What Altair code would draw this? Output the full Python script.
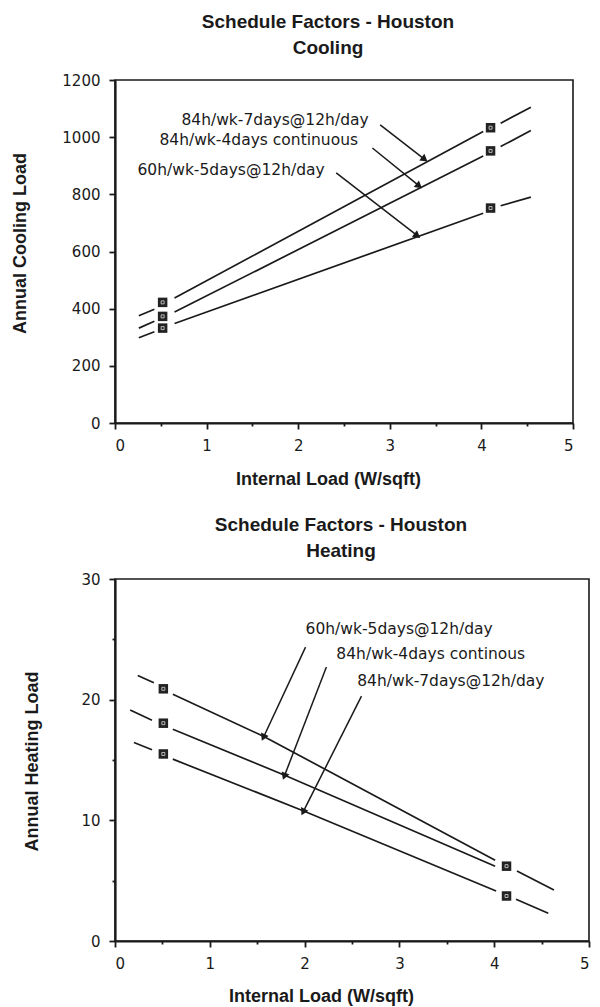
import math
import altair as alt
import pandas as pd

# ---------------- data ----------------
X_TICKS = [0, 0.5, 1, 1.5, 2, 2.5, 3, 3.5, 4, 4.5, 5]
COOL_Y_TICKS = [0, 200, 400, 600, 800, 1000, 1200]
HEAT_Y_TICKS = [0, 5, 10, 15, 20, 25, 30]

S7 = "84h/wk-7days@12h/day"
S4C = "84h/wk-4days continuous"
S4H = "84h/wk-4days continous"
S5 = "60h/wk-5days@12h/day"

# Cooling
cool_left_x = [0.26, 0.43]
cool_main_x = [0.65, 4.02]
cool_right_x = [4.21, 4.54]
cool_7d_left = [375, 398]
cool_7d_main = [437, 1020]
cool_7d_right = [1049, 1105]
cool_4d_left = [332, 356]
cool_4d_main = [388, 934]
cool_4d_right = [967, 1023]
cool_5d_left = [298, 319]
cool_5d_main = [348, 734]
cool_5d_right = [760, 790]
cool_marker_x = [0.52, 4.1]
cool_7d_marker = [422, 1033]
cool_4d_marker = [373, 952]
cool_5d_marker = [332, 752]

cool_labels = [S7, S4C, S5]
cool_label_x = [0.725, 0.485, 0.245]
cool_label_y = [1060, 990, 886]
cool_arrow_from_x = [2.895, 2.81, 2.415]
cool_arrow_from_y = [1043, 962, 875]
cool_arrow_to_x = [3.37, 3.31, 3.29]
cool_arrow_to_y = [925, 832, 658]

# Heating
heat_5d_left_x = [0.24, 0.41]
heat_5d_left = [22.0, 21.4]
heat_4d_left_x = [0.16, 0.39]
heat_4d_left = [19.15, 18.3]
heat_7d_left_x = [0.20, 0.39]
heat_7d_left = [16.45, 15.85]
heat_5d_main_x = [0.61, 1.57, 4.01]
heat_5d_main = [20.45, 16.95, 6.7]
heat_4d_main_x = [0.61, 1.79, 4.01]
heat_4d_main = [17.55, 13.74, 6.2]
heat_7d_main_x = [0.61, 1.99, 4.02]
heat_7d_main = [15.07, 10.78, 4.15]
heat_5d_right_x = [4.24, 4.63]
heat_5d_right = [5.8, 4.23]
heat_7d_right_x = [4.23, 4.57]
heat_7d_right = [3.46, 2.3]
heat_marker_x = [0.51, 4.13]
heat_5d_marker = [20.9, 6.2]
heat_4d_marker = [18.05, None]
heat_7d_marker = [15.5, 3.73]

heat_labels = [S5, S4H, S7]
heat_label_x = [2.01, 2.335, 2.555]
heat_label_y = [25.85, 23.77, 21.53]
heat_arrow_from_x = [2.01, 2.23, 2.6]
heat_arrow_from_y = [24.35, 22.7, 20.3]
heat_arrow_to_x = [1.57, 1.79, 1.99]
heat_arrow_to_y = [16.95, 13.74, 10.78]

# ---------------- helpers ----------------
TOP_W, TOP_H = 458, 343
BOT_W, BOT_H = 474, 362
TXT_FONT = "DejaVu Sans"
BOLD_FONT = "Liberation Sans"
INK = "#1a1a1a"


def seg_rows(series, seg, xs, ys):
    return [{"series": series, "seg": f"{series}|{seg}", "x": x, "y": y}
            for x, y in zip(xs, ys)]


def marker_rows(series, xs, ys):
    return [{"series": series, "x": x, "y": y} for x, y in zip(xs, ys) if y is not None]


def arrow_frames(fx, fy, tx, ty, w, h, ymax):
    rules, heads = [], []
    for a, b, c, d in zip(fx, fy, tx, ty):
        rules.append({"x": a, "y": b, "x2": c, "y2": d})
        dxp = (c - a) * w / 5.0
        dyp = -(d - b) * h / ymax
        ang = math.degrees(math.atan2(dxp, -dyp)) % 360
        heads.append({"x": c, "y": d, "angle": ang})
    return pd.DataFrame(rules), pd.DataFrame(heads)


def panel(lines, markers, labels, rules, heads, ymax, yticks, ystep_minor,
          w, h, title_lines, title_dx, title_offset, ytitle, ytitle_x, ytitle_y,
          xtitle_x, xtitle_y):
    xscale = alt.Scale(domain=[0, 5], nice=False, zero=False)
    yscale = alt.Scale(domain=[0, ymax], nice=False, zero=False)
    xaxis = alt.Axis(
        values=X_TICKS, grid=False,
        labelExpr="datum.value % 1 === 0 ? format(datum.value, 'd') : ''",
        tickSize={"condition": {"test": "datum.value % 1 !== 0", "value": 3}, "value": 6},
        title="Internal Load (W/sqft)", titleX=xtitle_x, titleY=xtitle_y,
        titleAlign="center", titleBaseline="middle", labelPadding=9,
    )
    if ystep_minor:
        ytick_size = {"condition": {"test": f"datum.value % {ystep_minor} !== 0", "value": 3}, "value": 6}
        ylabel_expr = f"datum.value % {ystep_minor} === 0 ? format(datum.value, 'd') : ''"
    else:
        ytick_size = 6
        ylabel_expr = "format(datum.value, 'd')"
    yaxis = alt.Axis(
        values=yticks, grid=False, labelExpr=ylabel_expr, tickSize=ytick_size,
        title=ytitle, titleX=ytitle_x, titleY=ytitle_y, titleAngle=270,
        titleAlign="center", titleBaseline="middle", labelPadding=9,
    )
    base_x = alt.X("x:Q", scale=xscale, axis=xaxis)
    base_y = alt.Y("y:Q", scale=yscale, axis=yaxis)

    line_layer = alt.Chart(lines).mark_line(color=INK, strokeWidth=1.7).encode(
        x=base_x, y=base_y, detail="seg:N")
    marker_layer = alt.Chart(markers).mark_point(
        shape="square", filled=True, size=90, color="#222", opacity=1).encode(
        x="x:Q", y="y:Q")
    inner_layer = alt.Chart(markers).mark_point(
        shape="square", filled=False, size=9, color="#ddd", strokeWidth=0.8, opacity=1).encode(
        x="x:Q", y="y:Q")
    text_layer = alt.Chart(labels).mark_text(
        align="left", baseline="middle", font=TXT_FONT, fontSize=15.5, color=INK).encode(
        x="x:Q", y="y:Q", text="label:N")
    rule_layer = alt.Chart(rules).mark_rule(color=INK, strokeWidth=1.5).encode(
        x="x:Q", y="y:Q", x2="x2:Q", y2="y2:Q")
    head_layer = alt.Chart(heads).mark_point(
        shape="triangle", filled=True, size=70, color=INK, opacity=1).encode(
        x="x:Q", y="y:Q", angle=alt.Angle("angle:Q", scale=None))

    return alt.layer(line_layer, rule_layer, head_layer, marker_layer, inner_layer, text_layer).properties(
        width=w, height=h,
        title=alt.TitleParams(
            text=title_lines, font=BOLD_FONT, fontWeight="bold", fontSize=19,
            lineHeight=26, anchor="middle", frame="group", dx=title_dx,
            offset=title_offset, color=INK),
    )


# Cooling frames
cool_lines = pd.DataFrame(
    seg_rows(S7, "l", cool_left_x, cool_7d_left) + seg_rows(S7, "m", cool_main_x, cool_7d_main)
    + seg_rows(S7, "r", cool_right_x, cool_7d_right)
    + seg_rows(S4C, "l", cool_left_x, cool_4d_left) + seg_rows(S4C, "m", cool_main_x, cool_4d_main)
    + seg_rows(S4C, "r", cool_right_x, cool_4d_right)
    + seg_rows(S5, "l", cool_left_x, cool_5d_left) + seg_rows(S5, "m", cool_main_x, cool_5d_main)
    + seg_rows(S5, "r", cool_right_x, cool_5d_right))
cool_markers = pd.DataFrame(
    marker_rows(S7, cool_marker_x, cool_7d_marker) + marker_rows(S4C, cool_marker_x, cool_4d_marker)
    + marker_rows(S5, cool_marker_x, cool_5d_marker))
cool_text = pd.DataFrame({"label": cool_labels, "x": cool_label_x, "y": cool_label_y})
cool_rules, cool_heads = arrow_frames(cool_arrow_from_x, cool_arrow_from_y, cool_arrow_to_x,
                                      cool_arrow_to_y, TOP_W, TOP_H, 1200)

# Heating frames
heat_lines = pd.DataFrame(
    seg_rows(S5, "l", heat_5d_left_x, heat_5d_left) + seg_rows(S5, "m", heat_5d_main_x, heat_5d_main)
    + seg_rows(S5, "r", heat_5d_right_x, heat_5d_right)
    + seg_rows(S4H, "l", heat_4d_left_x, heat_4d_left) + seg_rows(S4H, "m", heat_4d_main_x, heat_4d_main)
    + seg_rows(S7, "l", heat_7d_left_x, heat_7d_left) + seg_rows(S7, "m", heat_7d_main_x, heat_7d_main)
    + seg_rows(S7, "r", heat_7d_right_x, heat_7d_right))
heat_markers = pd.DataFrame(
    marker_rows(S5, heat_marker_x, heat_5d_marker) + marker_rows(S4H, heat_marker_x, heat_4d_marker)
    + marker_rows(S7, heat_marker_x, heat_7d_marker))
heat_text = pd.DataFrame({"label": heat_labels, "x": heat_label_x, "y": heat_label_y})
heat_rules, heat_heads = arrow_frames(heat_arrow_from_x, heat_arrow_from_y, heat_arrow_to_x,
                                      heat_arrow_to_y, BOT_W, BOT_H, 30)

top = panel(cool_lines, cool_markers, cool_text, cool_rules, cool_heads, 1200, COOL_Y_TICKS, None,
            TOP_W, TOP_H, ["Schedule Factors - Houston", "Cooling"], -16, 15,
            "Annual Cooling Load", -95, 163, 213, 56)
bottom = panel(heat_lines, heat_markers, heat_text, heat_rules, heat_heads, 30, HEAT_Y_TICKS, 10,
               BOT_W, BOT_H, ["Schedule Factors - Houston", "Heating"], -11, 11,
               "Annual Heating Load", -83, 182, 206, 55)

chart = alt.vconcat(top, bottom, spacing=26).properties(
    padding={"left": 10, "top": 12, "right": 0, "bottom": 0},
    background="white",
).configure_view(
    stroke=INK, strokeWidth=1.6
).configure_axis(
    domainColor=INK, domainWidth=2.2, tickColor=INK, tickWidth=1.8,
    labelFont=TXT_FONT, labelFontSize=15, labelColor=INK,
    titleFont=BOLD_FONT, titleFontWeight="bold", titleFontSize=18, titleColor=INK,
)

chart.save("out.html", embed_options={"renderer": "svg", "actions": False})
